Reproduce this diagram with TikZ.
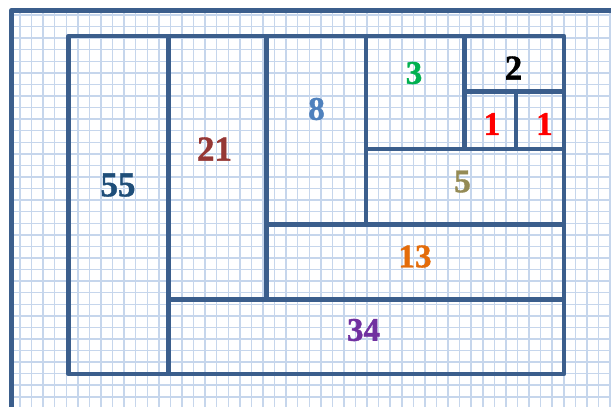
\documentclass[tikz,border=0pt]{standalone}
\usepackage{fontspec}
\setmainfont{Liberation Serif}
\newfontfamily\numfont{Liberation Serif Bold}[FakeBold=1.2]
\definecolor{framec}{RGB}{59,94,140}
\definecolor{gridc}{RGB}{198,214,236}
\definecolor{c55}{RGB}{31,78,121}
\definecolor{c21}{RGB}{149,55,53}
\definecolor{c8}{RGB}{79,129,189}
\definecolor{c3}{RGB}{0,176,80}
\definecolor{c1}{RGB}{255,0,0}
\definecolor{c5}{RGB}{148,138,84}
\definecolor{c13}{RGB}{228,108,10}
\definecolor{c34}{RGB}{112,48,160}
\begin{document}
\begin{tikzpicture}[x=1pt,y=-1pt,
  frame/.style={draw=framec,line width=4.6pt,line join=round},
  gridline/.style={draw=gridc,line width=1.5pt},
  lab/.style={font=\numfont\fontsize{33}{33}\selectfont,inner sep=0pt},
  labbig/.style={font=\numfont\fontsize{35}{35}\selectfont,inner sep=0pt}]
\useasboundingbox (0,0) rectangle (611,407);
\fill[white] (0,0) rectangle (611,407);
\begin{scope}
  \clip (11,10) rectangle (611,407);
  \foreach \i in {-1,...,51} \draw[gridline] ({20+\i*11.57},0) -- ({20+\i*11.57},407);
  \foreach \j in {-1,...,34} \draw[gridline] (0,{15+\j*11.57}) -- (611,{15+\j*11.57});
\end{scope}
\draw[frame] (11.3,410) -- (11.3,10.3) -- (615,10.3);
% Fibonacci rectangles
\coordinate (A) at (68.5,36);
\coordinate (B) at (564,374);
\draw[frame] (A) rectangle (B);
\draw[frame] (168.3,36) -- (168.3,374);
\draw[frame] (168.3,299.5) -- (564,299.5);
\draw[frame] (266.5,36) -- (266.5,299.5);
\draw[frame] (266.5,224.3) -- (564,224.3);
\draw[frame] (366,36) -- (366,224.3);
\draw[frame] (366,149) -- (564,149);
\draw[frame] (464.5,36) -- (464.5,149);
\draw[frame] (464.5,91.5) -- (564,91.5);
\draw[frame] (516,91.5) -- (516,149);
% labels
\node[labbig,text=c55] (n55) at (118,185) {55};
\node[labbig,text=c21] (n21) at (214.5,149) {21};
\node[lab,text=c8] (n8) at (316.5,109) {8};
\node[lab,text=c3] (n3) at (414,73) {3};
\node[labbig,text=black] (n2) at (513.5,68) {2};
\node[lab,text=c1] (n1a) at (492,124) {1};
\node[lab,text=c1] (n1b) at (544.5,124) {1};
\node[lab,text=c5] (n5) at (462.5,181.5) {5};
\node[lab,text=c13] (n13) at (415,256.5) {13};
\node[lab,text=c34] (n34) at (363.5,330) {34};
\end{tikzpicture}
\end{document}
